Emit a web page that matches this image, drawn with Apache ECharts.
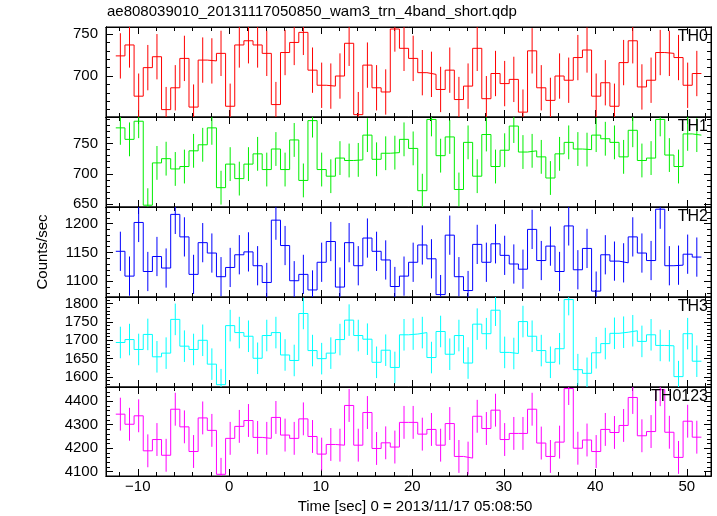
<!DOCTYPE html>
<html><head><meta charset="utf-8">
<script src="https://cdn.jsdelivr.net/npm/echarts@6/dist/echarts.min.js"></script>
<style>html,body{margin:0;padding:0;background:#fff}#c{width:717px;height:516px}</style>
</head><body><div id="c"></div>
<script>
// ---- data ----
const binStart = -12.4;   // left edge of first 1-s bin
const binWidth = 1;
const th0 = [724,737,676,710,723,660,686,721,663,719,718,727,664,737,742,737,727,666,728,740,752,707,689,688,700,739,654,713,686,681,756,733,
             721,704,702,684,707,672,688,733,673,703,691,696,657,730,686,671,700,695,722,731,676,692,664,716,742,687,695,728,727,722,689,703];
const th1 = [776,757,787,648,718,725,708,712,738,748,776,677,716,692,716,733,707,741,707,756,689,788,707,696,726,722,723,764,724,734,735,757,
             742,672,790,730,761,674,752,696,765,712,739,779,736,738,728,693,733,752,741,740,764,758,752,728,772,722,726,790,731,712,766,764];
const th2 = [1152,1109,1202,1117,1143,1123,1216,1177,1112,1167,1149,1108,1124,1146,1151,1127,1098,1206,1162,1101,1112,1085,1133,1169,1090,1167,1127,1175,1152,1137,1091,1109,
             1133,1163,1139,1077,1180,1108,1084,1164,1133,1165,1145,1130,1121,1190,1136,1161,1117,1196,1120,1157,1083,1146,1135,1132,1177,1149,1136,1225,1127,1128,1147,1142];
const th3 = [1694,1702,1675,1716,1655,1665,1757,1684,1675,1700,1635,1579,1740,1721,1711,1651,1713,1721,1660,1645,1773,1672,1650,1665,1702,1755,1713,1703,1640,1673,1626,1715,
             1717,1721,1653,1724,1662,1713,1638,1744,1718,1782,1667,1664,1751,1711,1672,1640,1677,1811,1620,1610,1666,1691,1719,1722,1726,1697,1715,1686,1685,1601,1718,1643];
const th0123 = [4345,4302,4338,4189,4237,4170,4366,4291,4186,4329,4276,4089,4242,4293,4318,4246,4242,4331,4256,4242,4325,4250,4175,4216,4213,4382,4213,4352,4199,4223,4205,4310,
                4310,4260,4280,4213,4305,4165,4158,4336,4284,4362,4237,4263,4263,4366,4222,4165,4226,4454,4200,4235,4186,4280,4267,4297,4416,4253,4271,4449,4268,4161,4315,4247];
const errors = [27, 28, 34, 43, 70];          // 1-sigma half length of error bars per band
const panelNames = ['TH0','TH1','TH2','TH3','TH0123'];
const yRanges = [[651.2,758.4],[645,794],[1072.8,1228.8],[1572.7,1818],[4081.8,4460.6]];
const yMajorTicks = [[700,750],[650,700,750],[1100,1150,1200],[1600,1650,1700,1750,1800],[4100,4200,4300,4400]];
const yMinorStep = [10,10,10,10,20];
const xRange = [-13.47, 52.65];
const xMajorTicks = [-10,0,10,20,30,40,50];
const xMinorTicks = [-12,-10,-8,-6,-4,-2,0,2,4,6,8,10,12,14,16,18,20,22,24,26,28,30,32,34,36,38,40,42,44,46,48,50,52];
const titleText = 'ae808039010_20131117050850_wam3_trn_4band_short.qdp';
const xTitle = 'Time [sec] 0 = 2013/11/17 05:08:50';
const yTitle = 'Counts/sec';
// ---- styling ----
const allData = [th0, th1, th2, th3, th0123];
const colors = ['#ff0000','#00ee00','#0000ff','#00ffff','#ff00ff'];
const FONT = 'Liberation Sans';
const tops = [27, 117, 207, 297, 387];
const heights = [90, 90, 90, 90, 89];
const gridLeft = 106, gridRight = 6;

const grids = [], xAxes = [], yAxes = [], series = [], graphics = [];
function minorList(r, step){ const a=[]; for(let v=Math.ceil(r[0]/step)*step; v<=r[1]; v+=step) a.push(v); return a; }

for (let i=0;i<5;i++){
  grids.push({left:gridLeft, right:gridRight, top:tops[i], height:heights[i], show:true, borderColor:'#000', borderWidth:1, backgroundColor:'transparent'});
  const isLast = i===4;
  const mkX = (pos, ticks, len, labels) => ({
    type:'value', gridIndex:i, position:pos, min:xRange[0], max:xRange[1],
    axisLine:{show:true, onZero:false, lineStyle:{color:'#000', width:1}},
    axisTick:{show:true, inside:true, length:len, customValues:ticks, lineStyle:{color:'#000'}},
    axisLabel:{show:labels, customValues:xMajorTicks, fontFamily:FONT, fontSize:15, color:'#000', margin:3,
      formatter:v=>String(v).replace('-','\u2212')},
    splitLine:{show:false}
  });
  xAxes.push(mkX('bottom', xMajorTicks, 7, isLast));
  xAxes.push(mkX('bottom', xMinorTicks, 4, false));
  xAxes.push(mkX('top', xMajorTicks, 7, false));
  xAxes.push(mkX('top', xMinorTicks, 4, false));
  const mn = minorList(yRanges[i], yMinorStep[i]);
  const mkY = (pos, ticks, len, labels) => ({
    type:'value', gridIndex:i, position:pos, min:yRanges[i][0], max:yRanges[i][1],
    axisLine:{show:true, onZero:false, lineStyle:{color:'#000', width:1}},
    axisTick:{show:true, inside:true, length:len, customValues:ticks, lineStyle:{color:'#000'}},
    axisLabel:{show:labels, customValues:yMajorTicks[i], fontFamily:FONT, fontSize:15, color:'#000', margin:8,
      formatter:v=>String(v)},
    splitLine:{show:false}
  });
  yAxes.push(mkY('left', yMajorTicks[i], 7, true));
  yAxes.push(mkY('left', mn, 4, false));
  yAxes.push(mkY('right', yMajorTicks[i], 7, false));
  yAxes.push(mkY('right', mn, 4, false));

  const vals = allData[i];
  const stepPts = [];
  vals.forEach((v,k)=>{ stepPts.push([binStart+k*binWidth, v]); stepPts.push([binStart+(k+1)*binWidth, v]); });
  series.push({type:'line', xAxisIndex:4*i, yAxisIndex:4*i, data:stepPts, showSymbol:false, symbol:'none',
    lineStyle:{color:colors[i], width:1}, animation:false, clip:true, silent:true});
  const err = errors[i];
  const col = colors[i];
  series.push({type:'custom', xAxisIndex:4*i, yAxisIndex:4*i, clip:true, animation:false, silent:true,
    data: vals.map((v,k)=>[binStart+(k+0.5)*binWidth, v, err]),
    renderItem:(params, api)=>{
      const x=api.value(0), y=api.value(1), e=api.value(2);
      const p1=api.coord([x,y-e]), p2=api.coord([x,y+e]);
      return {type:'line', shape:{x1:p1[0],y1:p1[1],x2:p2[0],y2:p2[1]}, style:{stroke:col, lineWidth:1}};
    }});
  graphics.push({type:'text', right: 9, top: tops[i]+2, z:100,
    style:{text:panelNames[i], font:'16px "'+FONT+'"', fill:'#000'}});
}
graphics.push({type:'text', left:107, top:4, style:{text:titleText, font:'15px "'+FONT+'"', fill:'#000'}});
graphics.push({type:'text', x:415, y:507, style:{text:xTitle, font:'15px "'+FONT+'"', fill:'#000', textAlign:'center', textVerticalAlign:'middle'}});
graphics.push({type:'text', x:43, y:252, rotation:Math.PI/2, style:{text:yTitle, font:'15px "'+FONT+'"', fill:'#000', textAlign:'center', textVerticalAlign:'middle'}});

const chart = echarts.init(document.getElementById('c'), null, {renderer:'canvas'});
chart.setOption({animation:false, backgroundColor:'#fff', grid:grids, xAxis:xAxes, yAxis:yAxes, series:series, graphic:graphics});
</script></body></html>
